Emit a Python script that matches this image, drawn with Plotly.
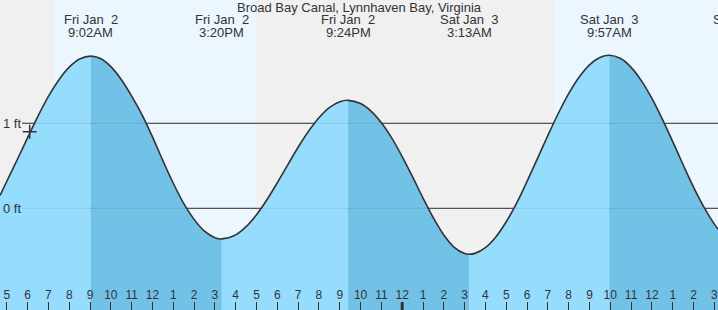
import plotly.graph_objects as go

# ---------------- data ----------------
title_text = "Broad Bay Canal, Lynnhaven Bay, Virginia"

# hours counted from midnight Fri Jan 2 (24 = midnight, 27.217 = 3:13AM Sat)
curve_hours = [4.673, 5.0, 5.5, 6.0, 6.5, 7.0, 7.5, 8.0, 8.5, 9.033,
               9.5, 10.0, 10.5, 11.0, 11.5, 12.0, 12.5, 13.0, 13.5, 14.0, 14.5, 15.0, 15.333,
               16.0, 16.5, 17.0, 17.5, 18.0, 18.5, 19.0, 19.5, 20.0, 20.5, 21.0, 21.4,
               22.0, 22.5, 23.0, 23.5, 24.0, 24.5, 25.0, 25.5, 26.0, 26.5, 27.0, 27.217,
               27.5, 28.0, 28.5, 29.0, 29.5, 30.0, 30.5, 31.0, 31.5, 32.0, 32.5, 33.0, 33.5, 33.95,
               34.5, 35.0, 35.5, 36.0, 36.5, 37.0, 37.5, 38.0, 38.5, 39.0, 39.176]
curve_ft = [0.15, 0.318, 0.571, 0.831, 1.085, 1.316, 1.510, 1.660, 1.755, 1.79,
            1.761, 1.667, 1.515, 1.320, 1.100, 0.840, 0.560, 0.295, 0.058, -0.130, -0.269, -0.345, -0.36,
            -0.312, -0.216, -0.075, 0.101, 0.301, 0.511, 0.718, 0.906, 1.065, 1.184, 1.253, 1.27,
            1.232, 1.144, 1.007, 0.826, 0.609, 0.369, 0.121, -0.114, -0.314, -0.459, -0.532, -0.54,
            -0.530, -0.463, -0.337, -0.158, 0.062, 0.316, 0.585, 0.856, 1.115, 1.349, 1.542, 1.688, 1.774, 1.80,
            1.761, 1.658, 1.499, 1.292, 1.049, 0.784, 0.512, 0.250, 0.015, -0.186, -0.244]

extreme_hours = [9.033, 15.333, 21.4, 27.217, 33.95, 40.33]
extreme_dates = ["Fri Jan\u00a0 2", "Fri Jan\u00a0 2", "Fri Jan\u00a0 2",
                 "Sat Jan\u00a0 3", "Sat Jan\u00a0 3", "Sat Jan\u00a0 3"]
extreme_times = ["9:02AM", "3:20PM", "9:24PM", "3:13AM", "9:57AM", "4:20PM"]

daylight_start = [7.27, 31.28]
daylight_end = [16.975, 41.0]

tick_hours = list(range(5, 40))
tick_labels = ["5", "6", "7", "8", "9", "10", "11", "12", "1", "2", "3", "4",
               "5", "6", "7", "8", "9", "10", "11", "12", "1", "2", "3", "4",
               "5", "6", "7", "8", "9", "10", "11", "12", "1", "2", "3"]
midnight_hour = 24

now_hour = 6.1
now_ft = 0.90

y_ticks = [0, 1]
y_labels = ["0 ft", "1 ft"]

x_range = [4.673, 39.176]
y_range = [-1.196, 2.45]

# ---------------- style ----------------
FONT = "Liberation Sans, Arial, sans-serif"
TXT = "#333333"
RISE = "#96dcfd"
FALL = "#72c1e6"
NIGHT = "#f0f0f0"
DAY = "#ebf6fe"

fig = go.Figure()

# split curve at extremes: rising parts light, falling parts darker
breaks = [0] + [curve_hours.index(h) for h in extreme_hours if h in curve_hours] + [len(curve_hours) - 1]
for k in range(len(breaks) - 1):
    a, b = breaks[k], breaks[k + 1]
    sx = curve_hours[a:b + 1]
    sy = curve_ft[a:b + 1]
    fig.add_trace(go.Scatter(x=[sx[0], sx[-1]], y=[y_range[0] - 0.2] * 2, mode="lines",
                             line=dict(width=0), hoverinfo="skip", showlegend=False))
    fig.add_trace(go.Scatter(x=sx, y=sy, mode="lines", line=dict(width=0, shape="spline"),
                             fill="tonexty", fillcolor=RISE if k % 2 == 0 else FALL,
                             hoverinfo="skip", showlegend=False))

fig.add_trace(go.Scatter(x=curve_hours, y=curve_ft, mode="lines",
                         line=dict(color=TXT, width=1.6, shape="spline"),
                         hoverinfo="skip", showlegend=False))

fig.add_trace(go.Scatter(x=[now_hour], y=[now_ft], mode="markers",
                         marker=dict(symbol="cross-thin", size=10,
                                     line=dict(color=TXT, width=1.5)),
                         hoverinfo="skip", showlegend=False))

shapes = []
for s, e in zip(daylight_start, daylight_end):
    shapes.append(dict(type="rect", xref="x", yref="paper", x0=s, x1=e, y0=0, y1=1,
                       fillcolor=DAY, line=dict(width=0), layer="below"))
for yv in y_ticks:
    shapes.append(dict(type="line", xref="paper", yref="y", x0=22 / 718, x1=1, y0=yv, y1=yv,
                       line=dict(color=TXT, width=1), layer="below"))
    shapes.append(dict(type="line", xref="paper", yref="y", x0=22 / 718, x1=1, y0=yv, y1=yv,
                       line=dict(color="rgba(30,60,90,0.12)", width=1), layer="above"))
shapes.append(dict(type="line", xref="x", yref="paper", x0=midnight_hour, x1=midnight_hour,
                   y0=0, y1=8 / 310, line=dict(color=TXT, width=3), layer="above"))

annotations = []
span = x_range[1] - x_range[0]
for h, d, t in zip(extreme_hours, extreme_dates, extreme_times):
    xp = (h - x_range[0]) / span
    for txt, yp in ((d, 1 - 19.3 / 310), (t, 1 - 32.3 / 310)):
        annotations.append(dict(x=xp, y=yp, xref="paper", yref="paper", text=txt,
                                showarrow=False, xanchor="center", yanchor="middle",
                                font=dict(family=FONT, size=13, color=TXT)))
for yv, lab in zip(y_ticks, y_labels):
    annotations.append(dict(x=0, y=yv, xref="paper", yref="y", text=lab, showarrow=False,
                            xanchor="left", yanchor="middle", xshift=1,
                            font=dict(family=FONT, size=13, color=TXT)))

fig.update_layout(
    width=718, height=310,
    margin=dict(l=0, r=0, t=0, b=0),
    paper_bgcolor=NIGHT, plot_bgcolor=NIGHT,
    title=dict(text=title_text, x=0.5, xanchor="center", y=1 - 7.5 / 310, yanchor="middle",
               font=dict(family=FONT, size=13, color=TXT)),
    shapes=shapes, annotations=annotations,
    xaxis=dict(range=x_range, tickvals=tick_hours, ticktext=tick_labels,
               ticks="inside", ticklen=8, tickwidth=1, tickcolor=TXT,
               ticklabelposition="inside", showgrid=False, zeroline=False, showline=False,
               tickfont=dict(family=FONT, size=12, color=TXT), fixedrange=True),
    yaxis=dict(range=y_range, showticklabels=False, ticks="",
               showgrid=False, zeroline=False, showline=False, fixedrange=True),
    showlegend=False,
)

fig.write_html("out.html")
